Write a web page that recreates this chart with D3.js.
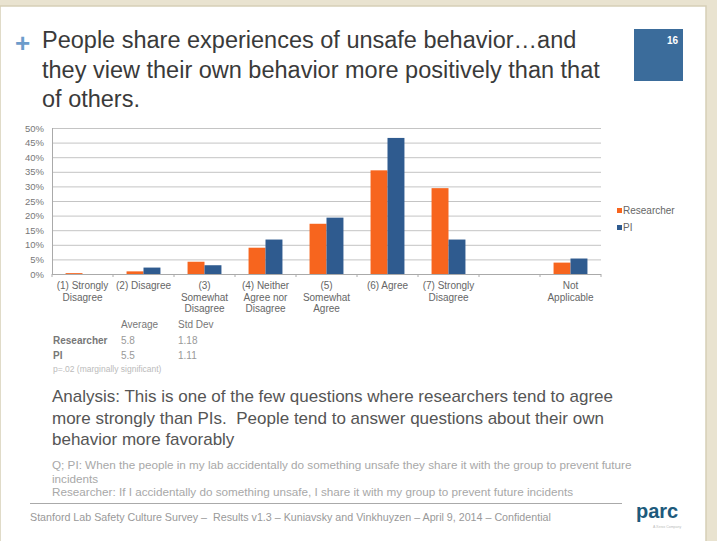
<!DOCTYPE html>
<html>
<head>
<meta charset="utf-8">
<script src="https://cdn.jsdelivr.net/npm/d3@7"></script>
<style>
  body { margin: 0; background: #e9e3d0; }
  svg { display: block; font-family: "Liberation Sans", Arial, sans-serif; }
  text { white-space: pre; }
</style>
</head>
<body>
<svg width="717" height="541"></svg>
<script>
// chart data
var categories = ["(1) Strongly|Disagree", "(2) Disagree", "(3)|Somewhat|Disagree",
                  "(4) Neither|Agree nor|Disagree", "(5)|Somewhat|Agree", "(6) Agree",
                  "(7) Strongly|Disagree", "", "Not|Applicable"];
var seriesNames = ["Researcher", "PI"];
var researcher = [0.3, 0.9, 4.2, 9.0, 17.2, 35.5, 29.4, null, 3.9];
var pi = [0.0, 2.2, 3.0, 11.8, 19.3, 46.6, 11.8, null, 5.3];
var yTicks = [0, 5, 10, 15, 20, 25, 30, 35, 40, 45, 50];

var statHeaders = ["Average", "Std Dev"];
var statRows = [["Researcher", "5.8", "1.18"], ["PI", "5.5", "1.11"]];

var colors = {Researcher: "#f7651e", PI: "#2f5b8f"};

var svg = d3.select("svg");

// slide frame
svg.append("rect").attr("x", 0).attr("y", 6).attr("width", 706).attr("height", 541)
    .attr("fill", "#fff").attr("stroke", "#d6cfb6").attr("stroke-width", 1.5);

// header
svg.append("text").attr("x", 15).attr("y", 52).attr("fill", "#6c9ccb")
    .style("font-size", "26px").style("font-weight", "bold").text("+");
var titleLines = ["People share experiences of unsafe behavior…and",
                  "they view their own behavior more positively than that",
                  "of others."];
svg.append("g").selectAll("text").data(titleLines).enter().append("text")
    .attr("x", 42).attr("y", function(d, i) { return 48 + i * 29.5; })
    .attr("fill", "#3a3a3a").style("font-size", "23.5px").text(function(d) { return d; });

svg.append("rect").attr("x", 634).attr("y", 29).attr("width", 49).attr("height", 52).attr("fill", "#3b6c9b");
svg.append("text").attr("x", 678).attr("y", 44).attr("text-anchor", "end").attr("fill", "#fff")
    .style("font-size", "10px").style("font-weight", "bold").text("16");

// chart
var plot = {left: 52, right: 601, top: 128, bottom: 274};
var x = d3.scaleBand().domain(d3.range(categories.length)).range([plot.left, plot.right]);
var x1 = d3.scaleBand().domain(seriesNames).range([0, x.bandwidth()]).paddingInner(0).paddingOuter(0.8);
var y = d3.scaleLinear().domain([0, 50]).range([plot.bottom, plot.top]);

var g = svg.append("g");

g.append("g").selectAll("line").data(yTicks).enter().append("line")
    .attr("x1", plot.left).attr("x2", plot.right)
    .attr("y1", function(d) { return y(d) + 0.5; }).attr("y2", function(d) { return y(d) + 0.5; })
    .attr("stroke", "#c4c4c4").attr("stroke-width", 1);

g.append("g").selectAll("text").data(yTicks).enter().append("text")
    .attr("x", 44).attr("y", function(d) { return y(d) + 3.5; })
    .attr("text-anchor", "end").attr("fill", "#777").style("font-size", "9.5px")
    .text(function(d) { return d + "%"; });

var rows = categories.map(function(c, i) {
  return [{s: "Researcher", v: researcher[i]}, {s: "PI", v: pi[i]}];
});
g.append("g").selectAll("g").data(rows).enter().append("g")
    .attr("transform", function(d, i) { return "translate(" + x(i) + ",0)"; })
  .selectAll("rect").data(function(d) { return d.filter(function(e) { return e.v != null; }); })
  .enter().append("rect")
    .attr("x", function(d) { return x1(d.s); })
    .attr("width", x1.bandwidth())
    .attr("y", function(d) { return y(d.v); })
    .attr("height", function(d) { return y(0) - y(d.v); })
    .attr("fill", function(d) { return colors[d.s]; });

// axes lines
g.append("line").attr("x1", plot.left + 0.5).attr("x2", plot.left + 0.5)
    .attr("y1", plot.top).attr("y2", plot.bottom).attr("stroke", "#aaa");
g.append("line").attr("x1", plot.left).attr("x2", plot.right)
    .attr("y1", plot.bottom + 0.5).attr("y2", plot.bottom + 0.5).attr("stroke", "#aaa");
g.append("g").selectAll("line").data(d3.range(categories.length + 1)).enter().append("line")
    .attr("x1", function(d) { return plot.left + d * x.bandwidth(); })
    .attr("x2", function(d) { return plot.left + d * x.bandwidth(); })
    .attr("y1", plot.bottom).attr("y2", plot.bottom + 3).attr("stroke", "#aaa");

var xl = g.append("g").selectAll("text").data(categories).enter().append("text")
    .attr("text-anchor", "middle").attr("fill", "#666").style("font-size", "10px")
    .attr("x", function(d, i) { return x(i) + x.bandwidth() / 2; })
    .attr("y", 289);
xl.selectAll("tspan").data(function(d) { return d ? d.split("|") : []; }).enter().append("tspan")
    .attr("x", function() { return d3.select(this.parentNode).attr("x"); })
    .attr("dy", function(d, i) { return i ? 11.5 : 0; })
    .text(function(d) { return d; });

// legend
var lg = svg.append("g").selectAll("g").data(seriesNames).enter().append("g")
    .attr("transform", function(d, i) { return "translate(617," + (208 + i * 17) + ")"; });
lg.append("rect").attr("width", 5).attr("height", 5).attr("fill", function(d) { return colors[d]; });
lg.append("text").attr("x", 6).attr("y", 6).attr("fill", "#666").style("font-size", "10px")
    .text(function(d) { return d; });

// stats table
var st = svg.append("g").style("font-size", "10px").attr("fill", "#777");
st.selectAll(".h").data(statHeaders).enter().append("text")
    .attr("x", function(d, i) { return [121, 178][i]; }).attr("y", 328).text(function(d) { return d; });
statRows.forEach(function(r, j) {
  st.selectAll(".r" + j).data(r).enter().append("text")
      .attr("x", function(d, i) { return [53, 121, 178][i]; })
      .attr("y", 344 + j * 15)
      .style("font-weight", function(d, i) { return i ? "normal" : "bold"; })
      .attr("fill", function(d, i) { return i ? "#999" : "#777"; })
      .text(function(d) { return d; });
});
st.append("text").attr("x", 53).attr("y", 372).attr("fill", "#bbb").style("font-size", "8.5px")
    .text("p=.02 (marginally significant)");

// analysis
var analysis = ["Analysis: This is one of the few questions where researchers tend to agree",
                "more strongly than PIs.  People tend to answer questions about their own",
                "behavior more favorably"];
svg.append("g").selectAll("text").data(analysis).enter().append("text")
    .attr("x", 52).attr("y", function(d, i) { return 402 + i * 21.5; })
    .attr("fill", "#555").style("font-size", "17px").text(function(d) { return d; });

var qLines = ["Q; PI: When the people in my lab accidentally do something unsafe they share it with the group to prevent future",
              "incidents",
              "Researcher: If I accidentally do something unsafe, I share it with my group to prevent future incidents"];
svg.append("g").selectAll("text").data(qLines).enter().append("text")
    .attr("x", 52).attr("y", function(d, i) { return 469 + i * 13.5; })
    .attr("fill", "#a8a8a8").style("font-size", "11.7px").text(function(d) { return d; });

// footer
svg.append("line").attr("x1", 30).attr("x2", 622).attr("y1", 503.5).attr("y2", 503.5)
    .attr("stroke", "#aaa").attr("stroke-width", 1);
svg.append("text").attr("x", 30).attr("y", 521).attr("fill", "#999").style("font-size", "10.7px")
    .text("Stanford Lab Safety Culture Survey –  Results v1.3 – Kuniavsky and Vinkhuyzen – April 9, 2014 – Confidential");
svg.append("text").attr("x", 636).attr("y", 518).attr("fill", "#1d5a7c")
    .style("font-size", "20px").style("font-weight", "bold").text("parc");
svg.append("text").attr("x", 653).attr("y", 528).attr("fill", "#bbb")
    .style("font-size", "3.5px").text("A Xerox Company");
</script>
</body>
</html>
